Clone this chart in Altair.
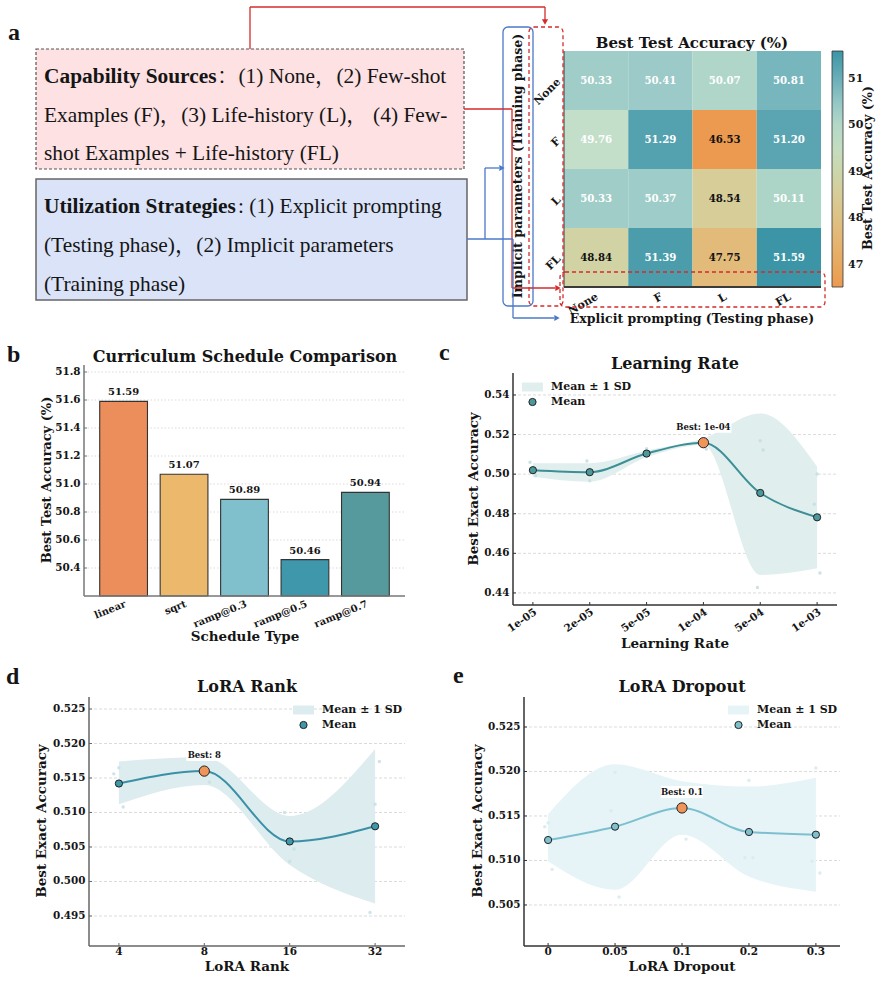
import altair as alt
import pandas as pd

# ---------------- data ----------------
heat_rows = ["None", "F", "L", "FL"]          # implicit parameters (training phase)
heat_cols = ["None", "F", "L", "FL"]          # explicit prompting (testing phase)
heat_vals = [
    [50.33, 50.41, 50.07, 50.81],
    [49.76, 51.29, 46.53, 51.20],
    [50.33, 50.37, 48.54, 50.11],
    [48.84, 51.39, 47.75, 51.59],
]
heat_ticks = [47, 48, 49, 50, 51]

sched_names = ["linear", "sqrt", "ramp@0.3", "ramp@0.5", "ramp@0.7"]
sched_vals = [51.59, 51.07, 50.89, 50.46, 50.94]
sched_ticks = [50.4, 50.6, 50.8, 51.0, 51.2, 51.4, 51.6, 51.8]

lr_labels = ["1e-05", "2e-05", "5e-05", "1e-04", "5e-04", "1e-03"]
lr_mean = [0.5020, 0.5010, 0.5104, 0.5159, 0.4905, 0.4782]
lr_lo = [0.4987, 0.4962, 0.5085, 0.5147, 0.4491, 0.4525]
lr_hi = [0.5055, 0.5055, 0.5119, 0.5181, 0.5307, 0.5038]
lr_seed_x = [-0.05, 0.05, 0.95, 1.0, 2.0, 3.05, 4.0, 4.05, 3.95, 5.0, 4.95, 5.05]
lr_seed_y = [0.5060, 0.4992, 0.5066, 0.4967, 0.5128, 0.5127, 0.5169, 0.5122, 0.4427, 0.5001, 0.4848, 0.4501]
lr_ticks = [0.44, 0.46, 0.48, 0.50, 0.52, 0.54]

rank_labels = ["4", "8", "16", "32"]
rank_mean = [0.5142, 0.5160, 0.5058, 0.5080]
rank_lo = [0.5112, 0.5140, 0.5024, 0.4968]
rank_hi = [0.5174, 0.5180, 0.5095, 0.5192]
rank_seed_x = [-0.06, 0.0, 0.05, 1.06, 1.94, 2.05, 2.0, 3.05, 3.0, 2.94]
rank_seed_y = [0.5156, 0.5165, 0.5108, 0.5144, 0.5100, 0.5047, 0.5029, 0.5174, 0.5112, 0.4955]
rank_ticks = [0.495, 0.500, 0.505, 0.510, 0.515, 0.520, 0.525]

drop_labels = ["0", "0.05", "0.1", "0.2", "0.3"]
drop_mean = [0.5123, 0.5138, 0.5159, 0.5132, 0.5129]
drop_lo = [0.5099, 0.5067, 0.5129, 0.5082, 0.5065]
drop_hi = [0.5152, 0.5208, 0.5189, 0.5183, 0.5193]
drop_seed_x = [-0.05, 0.0, 0.06, 1.0, 0.94, 1.06, 2.06, 3.0, 2.94, 3.06, 4.0, 3.94, 4.06]
drop_seed_y = [0.5138, 0.5142, 0.5090, 0.5199, 0.5156, 0.5059, 0.5124, 0.5190, 0.5103, 0.5103, 0.5204, 0.5099, 0.5086]
drop_ticks = [0.505, 0.510, 0.515, 0.520, 0.525]

# ---------------- styles ----------------
CW, CH = 881, 1002
SERIF = "DejaVu Serif"
TIMES = "Liberation Serif, 'Noto Serif CJK SC', 'Noto Sans CJK SC', serif"
INK = "#151515"
SPINE = "#333333"
RED = "#d42b2b"
BLUE = "#4b78c9"
GRID = "#d2d2d2"
HM_STOPS = [46.53, 47.75, 48.7, 49.76, 50.4, 50.81, 51.59]
HM_COLORS = ["#ec9a50", "#e2bb7b", "#d5d0a0", "#c3dfca", "#9ccbc8", "#78b6be", "#3b95a6"]
SCHED_COLORS = ["#ec8e5b", "#ecb86b", "#7fc0cc", "#3f97ab", "#579a9e"]
TICK_FS = 10.4

one = pd.DataFrame({"k": [0]})


def txt(x, y, s, size, font=SERIF, weight="bold", align="left", baseline="middle", angle=None, color=INK):
    kw = dict(font=font, fontSize=size, fontWeight=weight, align=align, baseline=baseline, color=color)
    if angle is not None:
        kw["angle"] = angle
    return alt.Chart(one).mark_text(**kw).encode(x=alt.value(x), y=alt.value(y), text=alt.value(s))


def seg(x1, y1, x2, y2, color, width=1.3):
    return alt.Chart(one).mark_rule(color=color, strokeWidth=width).encode(
        x=alt.value(x1), y=alt.value(y1), x2=alt.value(x2), y2=alt.value(y2))


def box(x1, y1, x2, y2, stroke, fill="white", fill_op=1.0, width=1.2, dash=None, radius=0):
    kw = dict(stroke=stroke, strokeWidth=width, fill=fill, fillOpacity=fill_op, cornerRadius=radius)
    if dash:
        kw["strokeDash"] = dash
    return alt.Chart(one).mark_rect(**kw).encode(
        x=alt.value(x1), x2=alt.value(x2), y=alt.value(y1), y2=alt.value(y2))


def head(x, y, shape, color):
    return alt.Chart(one).mark_point(shape=shape, filled=True, size=38, color=color, opacity=1).encode(
        x=alt.value(x), y=alt.value(y))


def y_axis(Y, ticks, fmt, x0, top, bottom, spine=SPINE):
    tdf = pd.DataFrame({"t": ticks})
    return [
        alt.Chart(tdf).mark_rule(color=spine, strokeWidth=1).encode(
            y=Y("t"), x=alt.value(x0), x2=alt.value(x0 + 3)),
        alt.Chart(tdf).mark_text(align="right", baseline="middle", font=SERIF, fontWeight="bold",
                                 fontSize=TICK_FS, color=INK).encode(
            y=Y("t"), x=alt.value(x0 - 3.5), text=alt.Text("t:Q", format=fmt)),
        seg(x0, top, x0, bottom, spine, 1.5),
    ]


def x_axis(X, field, labels_df, x0, x1, bottom, angle=None, ticks=True, size=10.5, pad=1, spine=SPINE):
    out = []
    if ticks:
        out.append(alt.Chart(labels_df).mark_rule(color=spine, strokeWidth=1).encode(
            x=X(field), y=alt.value(bottom - 3), y2=alt.value(bottom)))
    if angle is None:
        kw = dict(align="center", baseline="top")
    else:
        kw = dict(align="right", baseline="top", angle=angle)
    out.append(alt.Chart(labels_df).mark_text(font=SERIF, fontWeight="bold", fontSize=size, color=INK, **kw).encode(
        x=X(field), y=alt.value(bottom + pad), text="lab:N"))
    out.append(seg(x0, bottom, x1, bottom, spine, 1.5))
    return out


# ---------------- panel a : text boxes ----------------
a_layers = [
    txt(8, 40, "a", 24, font=TIMES, baseline="alphabetic"),
    box(36, 49, 464, 169, stroke="#555555", fill="#fde1e3", dash=[3, 2], width=1.2),
    box(36, 179, 467, 300, stroke="#666666", fill="#dae3f8", width=1.5),
    txt(44, 82.5, "Capability Sources", 21.4, font=TIMES, baseline="alphabetic"),
    txt(217, 82.5, "：(1) None，(2) Few-shot", 21.4, font=TIMES, weight="normal", baseline="alphabetic"),
    txt(44, 121.5, "Examples (F)，(3) Life-history (L)， (4) Few-", 21.4, font=TIMES, weight="normal", baseline="alphabetic"),
    txt(44, 160, "shot Examples + Life-history (FL)", 21.4, font=TIMES, weight="normal", baseline="alphabetic"),
    txt(44, 212.5, "Utilization Strategies", 21.4, font=TIMES, baseline="alphabetic"),
    txt(238, 212.5, ": (1) Explicit prompting", 21.4, font=TIMES, weight="normal", baseline="alphabetic"),
    txt(44, 251.5, "(Testing phase)，(2) Implicit parameters", 21.4, font=TIMES, weight="normal", baseline="alphabetic"),
    txt(44, 290.5, "(Training phase)", 21.4, font=TIMES, weight="normal", baseline="alphabetic"),
]

# ---------------- panel a : heatmap ----------------
hm = pd.DataFrame([{"row": r, "col": c, "v": heat_vals[i][j]}
                   for i, r in enumerate(heat_rows) for j, c in enumerate(heat_cols)])


def hmx(field="col"):
    return alt.X(f"{field}:N", scale=alt.Scale(domain=heat_cols, range=[564, 821], paddingInner=0, paddingOuter=0), axis=None)


def hmy(field="row"):
    return alt.Y(f"{field}:N", scale=alt.Scale(domain=heat_rows, range=[51, 287], paddingInner=0, paddingOuter=0), axis=None)


heat_rect = alt.Chart(hm).mark_rect().encode(
    x=hmx(), y=hmy(),
    color=alt.Color("v:Q", scale=alt.Scale(domain=HM_STOPS, range=HM_COLORS),
                    legend=alt.Legend(orient="none", legendX=832, legendY=51, direction="vertical",
                                      gradientLength=236, gradientThickness=11, title=None,
                                      values=heat_ticks, labelFont=SERIF, labelFontWeight="bold",
                                      labelFontSize=11, labelColor=INK, labelOffset=5,
                                      gradientStrokeColor=SPINE, gradientStrokeWidth=0.8)),
)
heat_text = alt.Chart(hm).mark_text(font=SERIF, fontWeight="bold", fontSize=10.2).encode(
    x=hmx(), y=hmy(), text=alt.Text("v:Q", format=".2f"),
    color=alt.condition("datum.v < 49", alt.value("#111111"), alt.value("#ffffff")),
)
hcol_df = pd.DataFrame({"hc": heat_cols, "lab": heat_cols})
hrow_df = pd.DataFrame({"hr": heat_rows, "lab": heat_rows})
heat_xlab = alt.Chart(hcol_df).mark_text(font=SERIF, fontWeight="bold", fontSize=11, color=INK,
                                         align="right", baseline="top", angle=330, dx=-2).encode(
    x=hmx("hc"), y=alt.value(290), text="lab:N")
heat_ylab = alt.Chart(hrow_df).mark_text(font=SERIF, fontWeight="bold", fontSize=11, color=INK,
                                         align="right", baseline="middle", angle=315).encode(
    y=hmy("hr"), x=alt.value(559), text="lab:N")
heat = alt.layer(heat_rect, heat_text, heat_xlab, heat_ylab)

heat_deco = [
    seg(564, 287, 821, 287, "#3a3a3a", 2.0),
    seg(564, 51, 564, 287, "#3a3a3a", 1.0),
    txt(692, 43, "Best Test Accuracy (%)", 15, align="center"),
    txt(692, 319, "Explicit prompting (Testing phase)", 12.5, align="center"),
    txt(868, 168, "Best Test Accuracy (%)", 12.8, align="center", angle=270),
    box(503, 27, 533, 306, stroke=BLUE, fill="white", fill_op=0, width=1.3, radius=5),
    box(529, 27, 563, 306, stroke=RED, fill="white", fill_op=0, width=1.3, dash=[4, 3], radius=5),
    box(560, 272, 825, 307, stroke=RED, fill="white", fill_op=0, width=1.3, dash=[4, 3], radius=5),
    txt(518, 166, "Implicit parameters (Training phase)", 12.7, align="center", angle=270),
    # red connectors
    seg(250, 49, 250, 7, RED), seg(250, 7, 545, 7, RED), seg(545, 7, 545, 20, RED),
    head(545, 22, "triangle-down", RED),
    seg(464, 109, 512, 109, RED), seg(512, 109, 512, 288, RED), seg(512, 288, 555, 288, RED),
    head(558, 288, "triangle-right", RED),
    # blue connectors
    seg(467, 239, 513, 239, BLUE), seg(485, 239, 485, 168, BLUE), seg(485, 168, 499, 168, BLUE),
    head(502, 168, "triangle-right", BLUE),
    seg(513, 239, 513, 318, BLUE), seg(513, 318, 554, 318, BLUE),
    head(557, 318, "triangle-right", BLUE),
]

# ---------------- panel b : bars ----------------
bdf = pd.DataFrame({"name": sched_names, "v": sched_vals, "lab": sched_names})


def bx(field="name"):
    return alt.X(f"{field}:N", scale=alt.Scale(domain=sched_names, range=[84, 405], paddingInner=0.21, paddingOuter=0.26), axis=None)


def by(field):
    return alt.Y(field, type="quantitative",
                 scale=alt.Scale(domain=[50.2, 51.85], range=[596, 365], nice=False, zero=False), axis=None)


b_grid = alt.Chart(pd.DataFrame({"t": sched_ticks})).mark_rule(
    color=GRID, strokeWidth=0.8, strokeDash=[1.5, 2]).encode(y=by("t"), x=alt.value(84), x2=alt.value(405))
b_bars = alt.Chart(bdf).mark_bar(stroke=SPINE, strokeWidth=1.1).encode(
    x=bx(), y=by("v"), y2=alt.datum(50.2),
    color=alt.Color("name:N", scale=alt.Scale(domain=sched_names, range=SCHED_COLORS), legend=None),
)
b_lab = alt.Chart(bdf).mark_text(font=SERIF, fontWeight="bold", fontSize=10, dy=-9, color=INK).encode(
    x=bx(), y=by("v"), text=alt.Text("v:Q", format=".2f"))
panel_b = alt.layer(
    b_grid, b_bars, b_lab,
    *y_axis(by, sched_ticks, ".1f", 84, 365, 596, spine="#777777"),
    *x_axis(bx, "name", bdf, 84, 405, 596, angle=338, ticks=False, size=10, pad=3, spine="#777777"),
)
b_deco = [
    txt(7, 362, "b", 24, font=TIMES, baseline="alphabetic"),
    txt(245, 357, "Curriculum Schedule Comparison", 16, align="center"),
    txt(47, 480, "Best Test Accuracy (%)", 13, align="center", angle=270),
    txt(245, 637, "Schedule Type", 13.5, align="center"),
]


# ---------------- line panels ----------------
def line_panel(xr, yr, xdom, ydom, labels, yticks, yfmt, mean, lo, hi, sx, sy, best_txt,
               line_c, pt_c, band_c, seed_c, lab_angle, leg, box_w, spine):
    n = len(mean)
    best = max(range(n), key=lambda k: mean[k])
    main = pd.DataFrame({"i": list(range(n)), "mean": mean, "lo": lo, "hi": hi, "lab": labels})
    bdf_ = main.iloc[[best]]

    def X(field):
        return alt.X(field, type="quantitative", scale=alt.Scale(domain=xdom, range=xr, nice=False, zero=False), axis=None)

    def Y(field):
        return alt.Y(field, type="quantitative", scale=alt.Scale(domain=ydom, range=[yr[1], yr[0]], nice=False, zero=False), axis=None)

    grid = alt.Chart(pd.DataFrame({"t": yticks})).mark_rule(
        color=GRID, strokeWidth=0.8, strokeDash=[3, 2]).encode(y=Y("t"), x=alt.value(xr[0]), x2=alt.value(xr[1]))
    band = alt.Chart(main).mark_area(color=band_c, opacity=1, interpolate="monotone").encode(
        x=X("i"), y=Y("lo"), y2=alt.Y2("hi"))
    seeds = alt.Chart(pd.DataFrame({"sx": sx, "sy": sy})).mark_circle(size=12, color=seed_c, opacity=0.9).encode(
        x=X("sx"), y=Y("sy"))
    line = alt.Chart(main).mark_line(color=line_c, strokeWidth=2, interpolate="monotone").encode(
        x=X("i"), y=Y("mean"))
    pts = alt.Chart(main).mark_point(filled=True, fill=pt_c, stroke="#222222", strokeWidth=1, size=52, opacity=1).encode(
        x=X("i"), y=Y("mean"))
    bpt = alt.Chart(bdf_).mark_point(filled=True, fill="#f0955a", stroke="#222222", strokeWidth=1, size=105, opacity=1).encode(
        x=X("i"), y=Y("mean"))
    bbg = alt.Chart(bdf_).mark_rect(width=box_w, height=12, yOffset=-16, color="white").encode(
        x=X("i"), y=Y("mean"))
    btx = alt.Chart(bdf_).mark_text(font=SERIF, fontWeight="bold", fontSize=8.5, dy=-16, color=INK).encode(
        x=X("i"), y=Y("mean"), text=alt.value(best_txt))
    lx, ly = leg
    legend = [
        box(lx, ly - 4.5, lx + 21, ly + 4.5, stroke=band_c, fill=band_c, width=0),
        alt.Chart(one).mark_point(filled=True, fill=pt_c, stroke="#222222", strokeWidth=1, size=52, opacity=1).encode(
            x=alt.value(lx + 10.5), y=alt.value(ly + 15)),
        txt(lx + 29, ly, "Mean ± 1 SD", 11),
        txt(lx + 29, ly + 15, "Mean", 11),
    ]
    axes = y_axis(Y, yticks, yfmt, xr[0], yr[0], yr[1], spine=spine) + \
        x_axis(X, "i", main, xr[0], xr[1], yr[1], angle=lab_angle, pad=2 if lab_angle else 0.5, spine=spine)
    return alt.layer(grid, band, seeds, line, pts, bpt, bbg, btx, *axes, *legend)


panel_c = line_panel([513, 837], [373, 605], [-0.35, 5.35], [0.4339, 0.5511], lr_labels, lr_ticks, ".2f",
                     lr_mean, lr_lo, lr_hi, lr_seed_x, lr_seed_y, "Best: 1e-04",
                     "#3d8f96", "#4c999d", "#e0eeee", "#c6dfe0", 325, (522, 387), 56, "#333333")
c_deco = [
    txt(439, 360, "c", 24, font=TIMES, baseline="alphabetic"),
    txt(675, 364, "Learning Rate", 16, align="center"),
    txt(474, 489, "Best Exact Accuracy", 13.5, align="center", angle=270),
    txt(675, 644, "Learning Rate", 13.5, align="center"),
]

panel_d = line_panel([89, 405], [697, 946], [-0.35, 3.35], [0.49065, 0.52674], rank_labels, rank_ticks, ".3f",
                     rank_mean, rank_lo, rank_hi, rank_seed_x, rank_seed_y, "Best: 8",
                     "#3a90a7", "#3f97aa", "#dcecef", "#c9e1e7", None, (293, 710), 36, "#666666")
d_deco = [
    txt(6, 684, "d", 24, font=TIMES, baseline="alphabetic"),
    txt(247, 687, "LoRA Rank", 16, align="center"),
    txt(42, 821, "Best Exact Accuracy", 13.5, align="center", angle=270),
    txt(247, 967, "LoRA Rank", 13.5, align="center"),
]

panel_e = line_panel([524, 840], [697, 946], [-0.36, 4.36], [0.50039, 0.52837], drop_labels, drop_ticks, ".3f",
                     drop_mean, drop_lo, drop_hi, drop_seed_x, drop_seed_y, "Best: 0.1",
                     "#7cc0cf", "#7ec0cd", "#e6f4f7", "#d6ebef", None, (728, 710), 42, "#333333")
e_deco = [
    txt(453, 683, "e", 24, font=TIMES, baseline="alphabetic"),
    txt(682, 687, "LoRA Dropout", 16, align="center"),
    txt(478, 821, "Best Exact Accuracy", 13.5, align="center", angle=270),
    txt(682, 967, "LoRA Dropout", 13.5, align="center"),
]

chart = alt.layer(
    *a_layers, heat, *heat_deco,
    panel_b, *b_deco,
    panel_c, *c_deco,
    panel_d, *d_deco,
    panel_e, *e_deco,
).resolve_scale(
    x="independent", y="independent", color="independent"
).properties(
    width=CW, height=CH, padding=0, autosize=alt.AutoSizeParams(type="none"), background="white"
).configure_view(strokeWidth=0)

chart.save("out.html", embed_options={"renderer": "svg", "actions": False})
